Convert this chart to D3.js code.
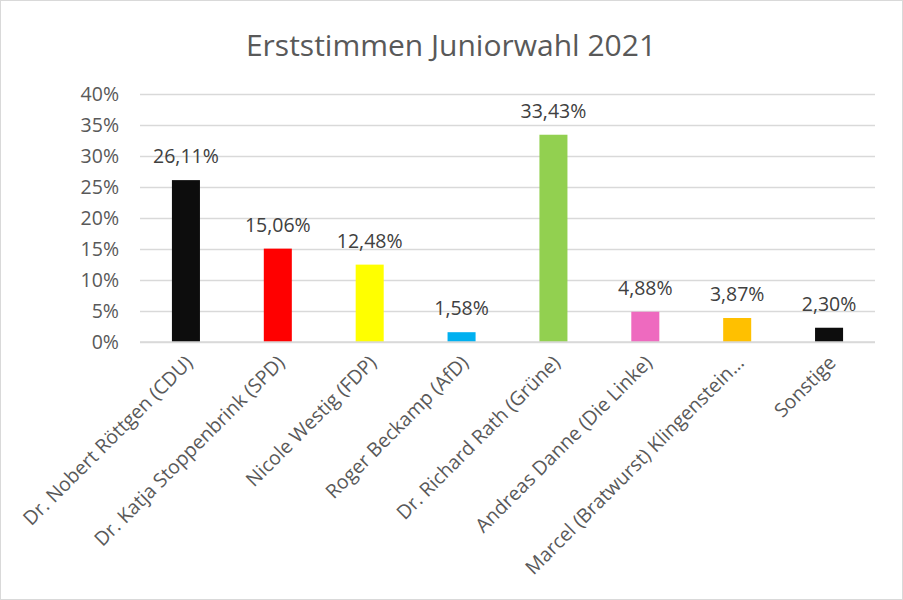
<!DOCTYPE html>
<html><head><meta charset="utf-8">
<script src="https://cdn.jsdelivr.net/npm/d3@7"></script>
<style>body{margin:0;background:#fff}svg{display:block}</style>
</head><body>
<script>
const categories = ["Dr. Nobert Röttgen (CDU)","Dr. Katja Stoppenbrink (SPD)","Nicole Westig (FDP)","Roger Beckamp (AfD)","Dr. Richard Rath (Grüne)","Andreas Danne (Die Linke)","Marcel (Bratwurst) Klingenstein…","Sonstige"];
const values = [26.11, 15.06, 12.48, 1.58, 33.43, 4.88, 3.87, 2.30];
const colors = ["#0d0d0d","#ff0000","#ffff00","#00b0f0","#92d050","#ee6abf","#ffc000","#0d0d0d"];
const yTicks = [0,5,10,15,20,25,30,35,40];

const W=903,H=600, font="'Open Sans', sans-serif";
const svg=d3.select("body").append("svg").attr("width",W).attr("height",H);
svg.append("rect").attr("x",0.5).attr("y",0.5).attr("width",W-1).attr("height",H-1).attr("fill","#fff").attr("stroke","#d9d9d9");
svg.append("text").attr("x",451).attr("y",56).attr("text-anchor","middle").attr("font-family",font).attr("font-size",30).attr("fill","#595959").text("Erststimmen Juniorwahl 2021");

const x=d3.scaleBand().domain(categories).range([140,875]).paddingInner(0.695).paddingOuter(0.3475);
const y=d3.scaleLinear().domain([0,40]).range([342,94]);

const yAxis=svg.append("g").attr("transform","translate(140,0)").call(d3.axisLeft(y).tickValues(yTicks).tickSize(-735).tickFormat(d=>d+"%"));
yAxis.select(".domain").remove();
yAxis.selectAll("line").attr("stroke","#d9d9d9").attr("stroke-width",1.3);
yAxis.selectAll("text").attr("x",-21).attr("font-family",font).attr("font-size",19.5).attr("fill","#595959");

svg.selectAll("rect.bar").data(values).join("rect").attr("class","bar")
  .attr("x",(d,i)=>x(categories[i])).attr("width",x.bandwidth())
  .attr("y",d=>y(d)).attr("height",d=>y(0)-y(d)).attr("fill",(d,i)=>colors[i]);

svg.selectAll("text.lbl").data(values).join("text").attr("class","lbl")
  .attr("x",(d,i)=>x(categories[i])+x.bandwidth()/2).attr("y",d=>y(d)-17)
  .attr("text-anchor","middle").attr("font-family",font).attr("font-size",19.5).attr("fill","#404040")
  .text(d=>d.toFixed(2).replace(".",",")+"%");

svg.append("line").attr("x1",140).attr("x2",875).attr("y1",y(0)).attr("y2",y(0)).attr("stroke","#d9d9d9").attr("stroke-width",1.3);

svg.selectAll("text.cat").data(categories).join("text").attr("class","cat")
  .attr("transform",d=>`translate(${x(d)+x.bandwidth()/2+8},${364}) rotate(-45)`)
  .attr("text-anchor","end").attr("font-family",font).attr("font-size",19.5).attr("fill","#595959").text(d=>d);
</script>
</body></html>
